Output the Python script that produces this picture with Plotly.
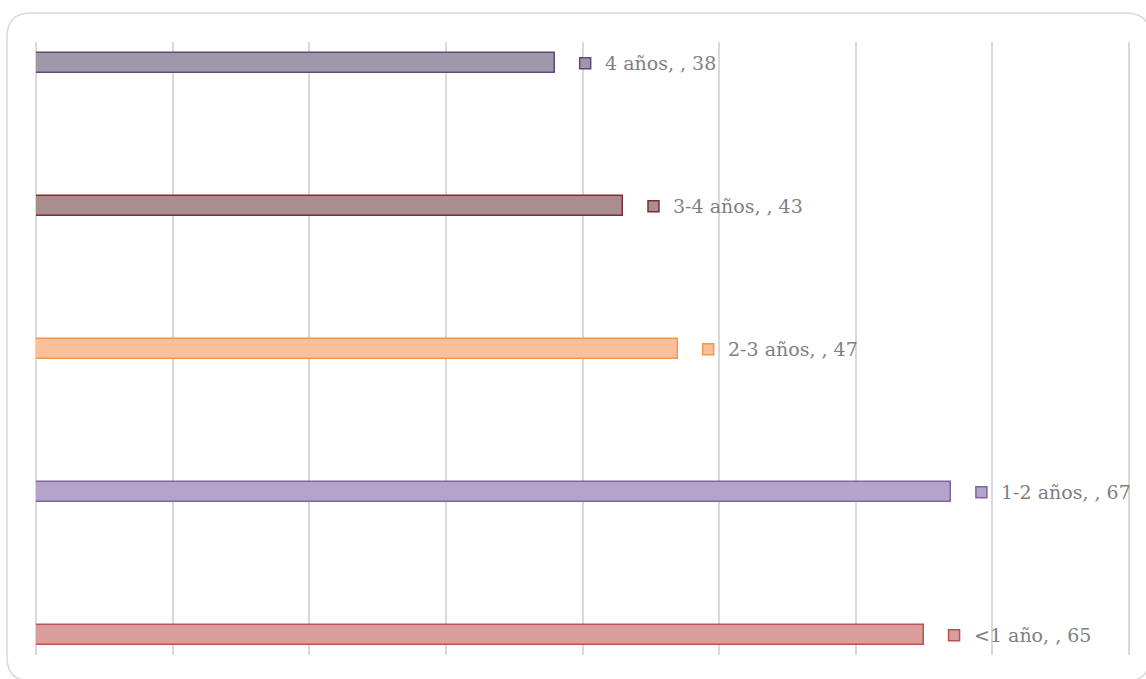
import plotly.graph_objects as go

# Data: number of respondents per seniority band
categories = ["<1 año", "1-2 años", "2-3 años", "3-4 años", "4 años"]
values = [65, 67, 47, 43, 38]
fill_colors = ["#da9e9d", "#b4a4ca", "#fbbf99", "#aa8d8f", "#9e98aa"]
line_colors = ["#c0504d", "#8064a2", "#f79646", "#7b2f35", "#5e4a76"]

W, H = 1146, 679
ML, MR, MT, MB = 36, 6, 42, 24
GRID_SPAN_PX = 1093          # pixel width covered by the 0..80 grid
plot_w = W - ML - MR
plot_h = H - MT - MB
X_MAX = 80 * plot_w / GRID_SPAN_PX
px_per_unit = plot_w / X_MAX

positions = list(range(len(categories)))

fig = go.Figure()

fig.add_trace(go.Bar(
    x=values,
    y=positions,
    orientation="h",
    width=0.14,
    marker=dict(color=fill_colors, line=dict(color=line_colors, width=1.5)),
    hoverinfo="skip",
    showlegend=False,
))

# small legend-key squares placed just right of each bar
key_gap_px = 30
fig.add_trace(go.Scatter(
    x=[v + key_gap_px / px_per_unit for v in values],
    y=positions,
    mode="markers",
    marker=dict(symbol="square", size=11, color=fill_colors,
                line=dict(color=line_colors, width=1.5)),
    hoverinfo="skip",
    showlegend=False,
))

annotations = []
for cat, v, p in zip(categories, values, positions):
    annotations.append(dict(
        x=v, y=p, xref="x", yref="y",
        text=f"{cat}, , {v}",
        showarrow=False,
        xanchor="left", yanchor="middle",
        xshift=48, yshift=0,
        font=dict(family="DejaVu Serif", size=19, color="#7f7f7f"),
    ))

# rounded outer frame of the chart area
def px_to_paper_x(px):
    return (px - ML) / plot_w

def px_to_paper_y(py):
    return (H - MB - py) / plot_h

left, top, right, bottom, r = 7, 13, 1150, 681, 24
pts = [
    ("M", left + r, top), ("L", right - r, top),
    ("Q", right, top, right, top + r), ("L", right, bottom - r),
    ("Q", right, bottom, right - r, bottom), ("L", left + r, bottom),
    ("Q", left, bottom, left, bottom - r), ("L", left, top + r),
    ("Q", left, top, left + r, top),
]
path = ""
for seg in pts:
    cmd, coords = seg[0], seg[1:]
    xy = []
    for i in range(0, len(coords), 2):
        xy.append(f"{px_to_paper_x(coords[i]):.5f},{px_to_paper_y(coords[i+1]):.5f}")
    path += cmd + " ".join(xy) + " "
path += "Z"

fig.update_layout(
    width=W, height=H,
    margin=dict(l=ML, r=MR, t=MT, b=MB, pad=0),
    paper_bgcolor="white",
    plot_bgcolor="white",
    xaxis=dict(range=[0, X_MAX], tick0=0, dtick=10, showticklabels=False,
               showgrid=True, gridcolor="#d9d9d9", gridwidth=1.5,
               zeroline=True, zerolinecolor="#d9d9d9", zerolinewidth=1.5,
               showline=False, ticks=""),
    yaxis=dict(range=[-0.138, 4.149], showticklabels=False, showgrid=False,
               zeroline=False, showline=False, ticks=""),
    annotations=annotations,
    shapes=[dict(type="path", path=path, xref="paper", yref="paper",
                 line=dict(color="#d9d9d9", width=1.5), layer="below")],
    bargap=0,
)

fig.write_html("out.html", config={"displayModeBar": False})
